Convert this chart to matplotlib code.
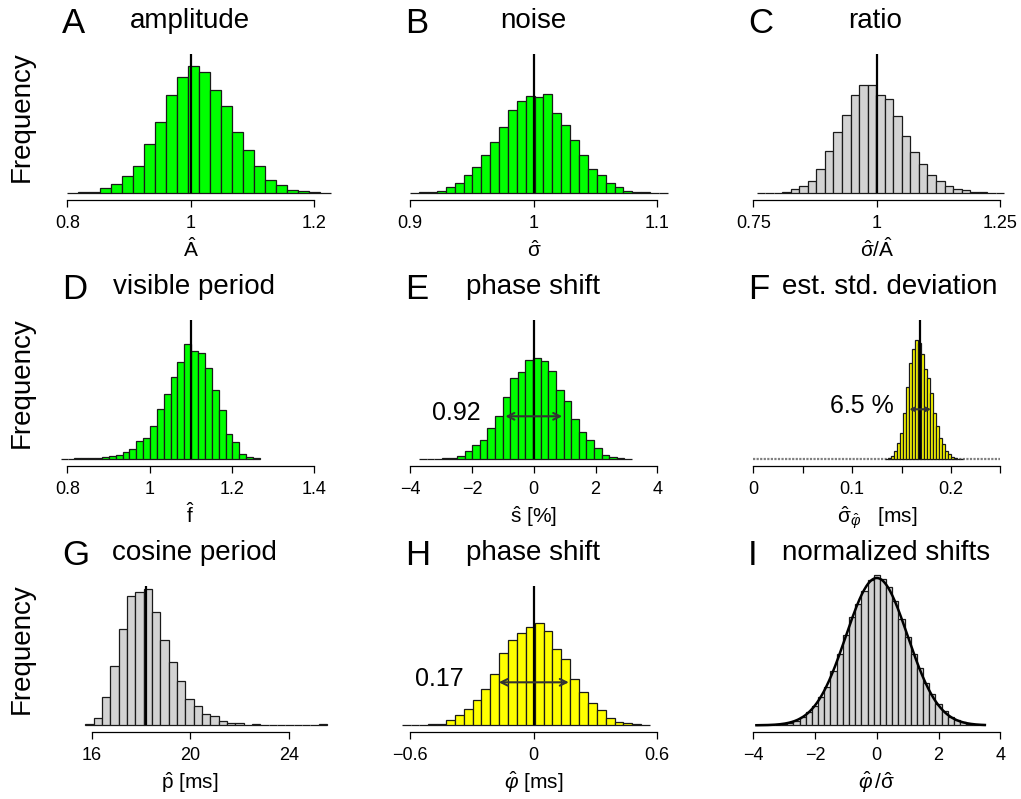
import numpy as np
import matplotlib
matplotlib.use("Agg")
from matplotlib import pyplot as plt

plt.rcParams['font.family'] = ['Liberation Sans', 'DejaVu Sans']
plt.rcParams['mathtext.fontset'] = 'custom'
plt.rcParams['mathtext.rm'] = 'Liberation Sans'
plt.rcParams['mathtext.it'] = 'Liberation Sans:italic'
plt.rcParams['mathtext.bf'] = 'Liberation Sans:bold'

# ---- data (bar heights in arbitrary frequency units) ----
amp_start, amp_width = 0.7989, 0.01781
amp_counts = [0.5, 1, 1.3, 5, 9, 17, 27, 49, 71, 98, 116, 127, 121, 103, 87, 61,
              43, 27, 13, 8, 3, 2, 1, 0.5]

noise_start, noise_width = 0.9, 0.00719
noise_counts = [0.7, 1, 1.3, 2.7, 6.3, 10.3, 18, 26.7, 38.7, 51.3, 66.3, 83, 92,
                97.7, 96, 99.7, 80, 68, 53, 38.7, 24, 18.3, 10, 6.7, 2.7, 1.7, 1,
                0.5, 0.3]

ratio_start, ratio_width = 0.7565, 0.0173
ratio_counts = [0.3, 0.5, 0.7, 1.7, 4, 7.3, 12.3, 24.3, 42.7, 61, 78.7, 98.7,
                108.7, 108.7, 98, 94.3, 77.7, 57, 41.7, 29, 18.7, 12.3, 7, 4.7,
                3.3, 1.3, 1, 0.5, 0.3]

freq_start, freq_width = 0.784, 0.01668
freq_counts = [0.5, 0.6, 0.8, 1.0, 1.3, 1.7, 2.0, 3.0, 4.7, 7.3, 10.3, 18.3,
               21.7, 33.3, 50.7, 65.7, 82, 97, 115, 108.3, 106, 91, 69, 49.3,
               25.3, 17, 5.3, 2.7, 1.3]

shift_start, shift_width = -3.72, 0.2465
shift_counts = [0.5, 0.5, 0.7, 1, 1.3, 3.3, 8, 14.3, 19.3, 31, 43.7, 62.3, 81.3,
                87.3, 99, 101.7, 98, 88.3, 69.3, 58.3, 40.3, 27.7, 19.3, 11.3, 4,
                2, 1, 0.7]

sd_start, sd_width = 0.13302, 0.00304
sd_counts = [0.7, 1.7, 3.3, 8.3, 16.7, 26, 46.7, 72.7, 96, 110.7, 119.3, 116.7,
             105, 90.7, 81.7, 66.7, 46.7, 33.3, 21.7, 15, 8.3, 5, 2.7, 1, 0.7,
             0.5]

period_start, period_width = 15.743, 0.3378
period_counts = [1.3, 7.7, 28.7, 59, 96.3, 129.7, 133, 136.3, 113, 85, 63.3,
                 44.3, 26.7, 19.7, 11.7, 9, 4.3, 2.7, 2, 0.7, 1, 0.7, 0.5, 0.5,
                 0.3, 0.3, 0.3, 0.3, 1]

phase_start, phase_width = -0.642, 0.0431
phase_counts = [0.3, 0.5, 0.7, 1, 1.7, 5, 10.7, 16.7, 25, 36.7, 51.7, 72, 85.7,
                92.3, 98, 102.7, 94.3, 76.7, 66, 46.7, 33.7, 22.3, 15.3, 7, 3.3,
                2, 1, 0.7]

norm_start, norm_width = -3.9, 0.2
norm_counts = [0.1, 0.2, 0.4, 0.8, 1.4, 2.5, 4.5, 8.5, 13, 19, 28, 38, 54, 71,
               90, 108, 121, 134, 145, 150, 146, 138, 124, 106, 88, 71, 57, 42,
               31, 21, 14, 8, 5, 3, 1.6, 0.8, 0.4]

true_values = [1.0, 1.0, 1.0, 1.1, 0.0, 0.1689, 18.19, 0.0, None]

letters = ['A', 'B', 'C', 'D', 'E', 'F', 'G', 'H', 'I']
titles = ['amplitude', 'noise', 'ratio', 'visible period', 'phase shift',
          'est. std. deviation', 'cosine period', 'phase shift',
          'normalized shifts']
xlabels = [r'$\hat{\mathrm{A}}$', r'$\hat{\mathrm{\sigma}}$',
           r'$\hat{\mathrm{\sigma}}/\hat{\mathrm{A}}$', r'$\hat{\mathrm{f}}$',
           r'$\hat{\mathrm{s}}$ [%]',
           r'$\hat{\mathrm{\sigma}}_{\hat{\varphi}}$   [ms]',
           r'$\hat{\mathrm{p}}$ [ms]', r'$\hat{\varphi}$ [ms]',
           r'$\hat{\varphi}\,/\hat{\mathrm{\sigma}}$']

ticks = [[0.8, 1.0, 1.2], [0.9, 1.0, 1.1], [0.75, 1.0, 1.25],
         [0.8, 1.0, 1.2, 1.4], [-4, -2, 0, 2, 4],
         [0, 0.05, 0.1, 0.15, 0.2, 0.25], [16, 20, 24], [-0.6, 0, 0.6],
         [-4, -2, 0, 2, 4]]
ticklabels = [['0.8', '1', '1.2'], ['0.9', '1', '1.1'], ['0.75', '1', '1.25'],
              ['0.8', '1', '1.2', '1.4'], ['\u22124', '\u22122', '0', '2', '4'],
              ['0', '', '0.1', '', '0.2', ''], ['16', '20', '24'],
              ['\u22120.6', '0', '0.6'], ['\u22124', '\u22122', '0', '2', '4']]

# spread arrows: (centre, half width, label)
arrows = {4: (0.0, 0.92, '0.92'), 5: (0.1689, 0.011, '6.5 %'),
          7: (0.0, 0.17, '0.17')}

colors = ['#00FF00', '#00FF00', '#D3D3D3', '#00FF00', '#00FF00', '#FFFF00',
          '#D3D3D3', '#FFFF00', '#D3D3D3']

hists = [(amp_start, amp_width, amp_counts),
         (noise_start, noise_width, noise_counts),
         (ratio_start, ratio_width, ratio_counts),
         (freq_start, freq_width, freq_counts),
         (shift_start, shift_width, shift_counts),
         (sd_start, sd_width, sd_counts),
         (period_start, period_width, period_counts),
         (phase_start, phase_width, phase_counts),
         (norm_start, norm_width, norm_counts)]

# ---- layout (pixels) ----
W, H = 1021, 799
fig = plt.figure(figsize=(W / 100, H / 100), dpi=100)

col_off = 343.0
ymax = 139.3


def fx(px):
    return px / W


def fy(py):
    return 1 - py / H


for i in range(9):
    r, c = divmod(i, 3)
    L = 56 + col_off * c
    R = L + 279
    yb = 193.3 + 266 * r
    ytop = yb - ymax
    # pixel span of the labelled axis
    if i == 6:
        p0, p1 = 91.7, 289.0
    else:
        p0, p1 = 67.3 + col_off * c, 314.3 + col_off * c
    t0, t1 = ticks[i][0], ticks[i][-1]
    ppu = (p1 - p0) / (t1 - t0)

    ax = fig.add_axes([fx(L), fy(yb), fx(R - L), (yb - ytop) / H])
    ax.set_xlim(t0 - (p0 - L) / ppu, t1 + (R - p1) / ppu)
    ax.set_ylim(0, ymax)
    ax.patch.set_visible(False)

    start, width, counts = hists[i]
    edges = start + width * np.arange(len(counts))
    if i == 5:
        ax.plot([t0, t1], [0, 0], color='#808080', lw=1.6, dashes=(1, 0.6),
                clip_on=False, zorder=1)
    ax.bar(edges, counts, width=width, align='edge', color=colors[i],
           edgecolor='#1a1a1a', linewidth=0.9, clip_on=False, zorder=2)

    if i == 8:
        xs = np.linspace(edges[0], edges[-1] + width, 300)
        dens = np.sum(counts) * width * np.exp(-xs ** 2 / 2) / np.sqrt(2 * np.pi)
        ax.plot(xs, dens, color='black', lw=1.8, clip_on=False, zorder=3)

    if true_values[i] is not None:
        ax.axvline(true_values[i], color='black', lw=1.6, zorder=3)

    if i in arrows:
        m, s, txt = arrows[i]
        ya = 50 if i == 5 else 43
        ax.annotate('', xy=(m - s, ya), xytext=(m + s, ya),
                    arrowprops=dict(arrowstyle='<->', color='#333333', lw=1.5,
                                    mutation_scale=6 if i == 5 else 12,
                                    shrinkA=0, shrinkB=0),
                    zorder=4)
        tx = {4: -1.73, 5: 0.1419, 7: -0.342}[i]
        ax.text(tx, ya + 3, txt, ha='right', va='center', fontsize=18)

    for side in ['top', 'left', 'right']:
        ax.spines[side].set_visible(False)
    ax.spines['bottom'].set_position(('outward', 4.7))
    ax.spines['bottom'].set_bounds(t0, t1)
    ax.spines['bottom'].set_linewidth(0.9)
    ax.set_yticks([])
    ax.set_xticks(ticks[i], ticklabels[i])
    ax.tick_params(axis='x', length=4.8, width=0.9, labelsize=13, pad=6)

    # panel letter, title, x label
    fig.text(fx(62 + col_off * c), fy(33 + 266 * r), letters[i], fontsize=25,
             ha='left', va='baseline')
    tcx = [190, 533, 875, 194, 533, 890, 194, 533, 886][i]
    fig.text(fx(tcx), fy(28 + 266 * r), titles[i], fontsize=20,
             ha='center', va='baseline')
    fig.text(fx((p0 + p1) / 2 if i != 6 else 190), fy(yb + 64), xlabels[i],
             fontsize=15, ha='center', va='baseline')

    if c == 0:
        fig.text(fx(22), fy(117 + 266 * r), 'Frequency', fontsize=20,
                 rotation=90, ha='center', va='center')

fig.savefig('out.png', dpi=100)
